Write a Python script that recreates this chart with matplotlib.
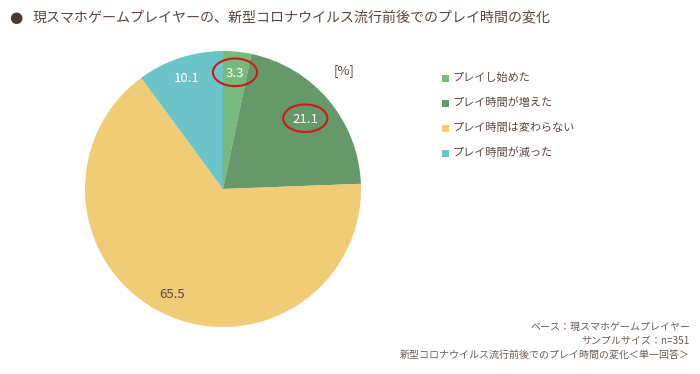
import numpy as np
import matplotlib
matplotlib.use("Agg")
import matplotlib.pyplot as plt
from matplotlib.patches import Ellipse

plt.rcParams["font.family"] = ["Noto Sans CJK JP", "DejaVu Sans"]

# ============================================================================
# Datos
# ============================================================================
categorias = ["プレイし始めた", "プレイ時間が増えた", "プレイ時間は変わらない", "プレイ時間が減った"]
valores = [3.3, 21.1, 65.5, 10.1]
colores = ["#77BA7B", "#66996A", "#F0CC76", "#6DC4C8"]
color_etiqueta = ["white", "white", "#5A4540", "white"]
dist_etiqueta = [0.84, 0.78, 0.85, 0.84]
resaltados = [0, 1]

titulo = "現スマホゲームプレイヤーの、新型コロナウイルス流行前後でのプレイ時間の変化"
notas = ["ベース：現スマホゲームプレイヤー", "サンプルサイズ：n=351",
         "新型コロナウイルス流行前後でのプレイ時間の変化＜単一回答＞"]

texto = "#5A4540"

# ============================================================================
# Figura
# ============================================================================
fig = plt.figure(figsize=(7, 3.74), dpi=100)
fig.patch.set_facecolor("white")

W, H = 700, 374
cx, cy, r = 223, 189, 138
ax = fig.add_axes([(cx - r) / W, (H - cy - r) / H, 2 * r / W, 2 * r / H])

wedges, _ = ax.pie(valores, colors=colores, startangle=90, counterclock=False,
                   radius=1, wedgeprops=dict(linewidth=0))
ax.set_xlim(-1, 1)
ax.set_ylim(-1, 1)
ax.set_aspect("equal")
ax.axis("off")

for i, w in enumerate(wedges):
    ang = np.deg2rad((w.theta1 + w.theta2) / 2)
    x = dist_etiqueta[i] * np.cos(ang)
    y = dist_etiqueta[i] * np.sin(ang)
    ax.text(x, y, f"{valores[i]:.1f}", ha="center", va="center",
            fontsize=9.5, color=color_etiqueta[i])
    if i in resaltados:
        ax.add_patch(Ellipse((x, y + 0.01), 0.32, 0.2, fill=False, edgecolor="#D01818",
                             linewidth=1.5, clip_on=False))

# Unidad
fig.text(344 / W, 1 - 71 / H, "[%]", ha="center", va="center", fontsize=9.5, color=texto)

# Titulo
fig.text(16 / W, 1 - 17 / H, "●", ha="center", va="center", fontsize=11, color="#4A3A36",
         family=["DejaVu Sans"])
fig.text(33 / W, 1 - 17 / H, titulo, ha="left", va="center", fontsize=10.1, color=texto)

# Leyenda
for i, cat in enumerate(categorias):
    yy = 1 - (78 + 25 * i) / H
    fig.patches.append(plt.Rectangle((442 / W, yy - 3.5 / H), 7 / W, 7 / H,
                                     transform=fig.transFigure, facecolor=colores[i],
                                     edgecolor="none"))
    fig.text(453 / W, yy, cat, ha="left", va="center", fontsize=8, color=texto)

# Notas
for i, nota in enumerate(notas):
    fig.text(690 / W, 1 - (327 + 14 * i) / H, nota, ha="right", va="center",
             fontsize=7.2, color="#6A5A56")

plt.savefig("out.png", dpi=100)
plt.close()
